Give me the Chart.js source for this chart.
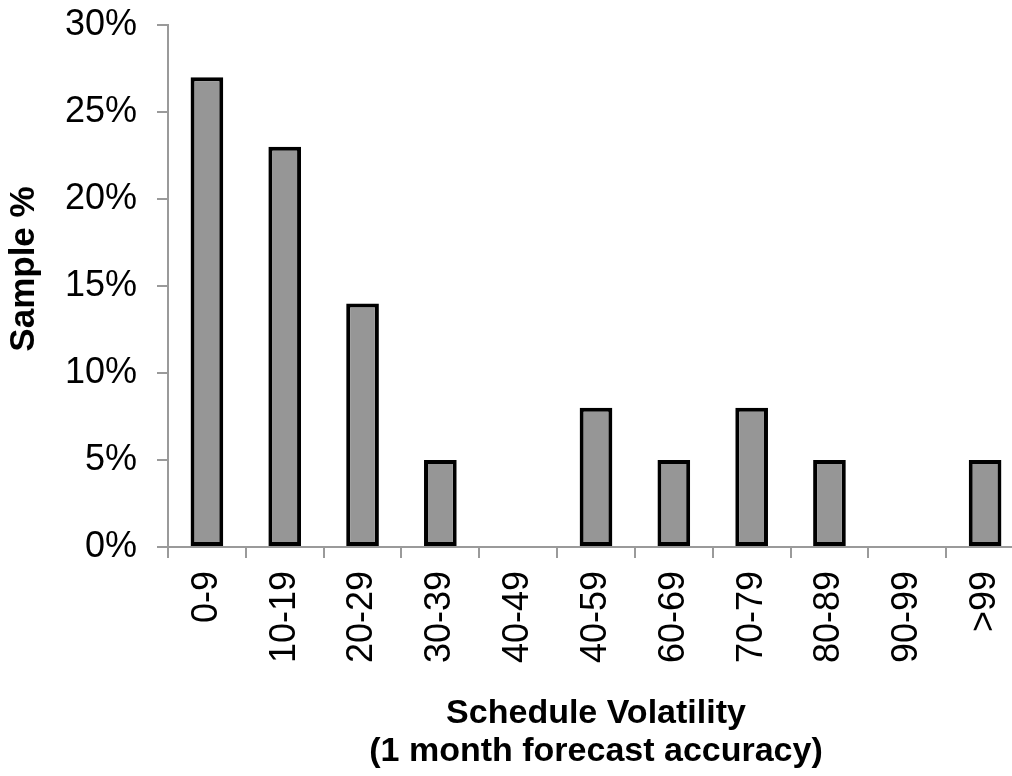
<!DOCTYPE html>
<html>
<head>
<meta charset="utf-8">
<script src="https://cdn.jsdelivr.net/npm/chart.js@4.4.1/dist/chart.umd.min.js"></script>
<style>
    html, body { margin: 0; padding: 0; background: #fff; overflow: hidden; }
    #volatility-chart { display: block; width: 1024px; height: 776px; }
</style>
</head>
<body>
<canvas id="volatility-chart" width="1024" height="776"></canvas>
<script>
// Data
const categories = ['0-9', '10-19', '20-29', '30-39', '40-49', '40-59', '60-69', '70-79', '80-89', '90-99', '>99'];
const samplePct = [27, 23, 14, 5, 0, 8, 5, 8, 5, 0, 5];
const yTicks = [0, 5, 10, 15, 20, 25, 30];

const xTitle = ['Schedule Volatility', '(1 month forecast accuracy)'];
const yTitle = 'Sample %';

const FONT = '"Liberation Sans", Arial, sans-serif';
const AXIS_GREY = '#9a9a9a';

// y axis title drawn by hand so it can sit where the original one sits
const yTitlePlugin = {
    id: 'yTitle',
    afterDraw(chart) {
        const ctx = chart.ctx;
        ctx.save();
        ctx.translate(24, 269);
        ctx.rotate(-Math.PI / 2);
        ctx.font = 'bold 35px ' + FONT;
        ctx.fillStyle = '#000';
        ctx.textAlign = 'center';
        ctx.textBaseline = 'middle';
        ctx.fillText(yTitle, 0, 0);
        ctx.restore();
    }
};

const ctx = document.getElementById('volatility-chart').getContext('2d');
new Chart(ctx, {
    type: 'bar',
    data: {
        labels: categories,
        datasets: [{
            data: samplePct,
            backgroundColor: '#969696',
            borderColor: '#000',
            borderWidth: 4,
            borderSkipped: false,
            barPercentage: 0.42,
            categoryPercentage: 1.0
        }]
    },
    options: {
        responsive: false,
        devicePixelRatio: 1,
        animation: false,
        layout: { padding: 0 },
        plugins: {
            legend: { display: false },
            tooltip: { enabled: false }
        },
        scales: {
            x: {
                offset: true,
                afterFit: (scale) => {
                    scale.height = 229;
                    scale.paddingLeft = 0;
                    scale.paddingRight = 0;
                },
                grid: {
                    offset: true,
                    drawOnChartArea: false,
                    drawTicks: true,
                    tickLength: 11,
                    color: AXIS_GREY,
                    lineWidth: 2
                },
                border: { display: true, color: AXIS_GREY, width: 2 },
                ticks: {
                    minRotation: 90,
                    maxRotation: 90,
                    autoSkip: false,
                    padding: 13,
                    color: '#000',
                    font: { family: FONT, size: 36 }
                },
                title: {
                    display: true,
                    text: xTitle,
                    color: '#000',
                    padding: { top: 0, bottom: 6 },
                    font: { family: FONT, size: 34, weight: 'bold', lineHeight: 1.1 }
                }
            },
            y: {
                min: 0,
                max: 30,
                afterFit: (scale) => {
                    scale.width = 168;
                    scale.paddingTop = 25;
                    scale.paddingBottom = 0;
                },
                afterBuildTicks: (scale) => { scale.ticks = yTicks.map(v => ({ value: v })); },
                grid: {
                    drawOnChartArea: false,
                    drawTicks: true,
                    tickLength: 11,
                    color: AXIS_GREY,
                    lineWidth: 2
                },
                border: { display: true, color: AXIS_GREY, width: 2 },
                ticks: {
                    padding: 20,
                    color: '#000',
                    font: { family: FONT, size: 36 },
                    callback: (v) => v + '%'
                }
            }
        }
    },
    plugins: [yTitlePlugin]
});
</script>
</body>
</html>
